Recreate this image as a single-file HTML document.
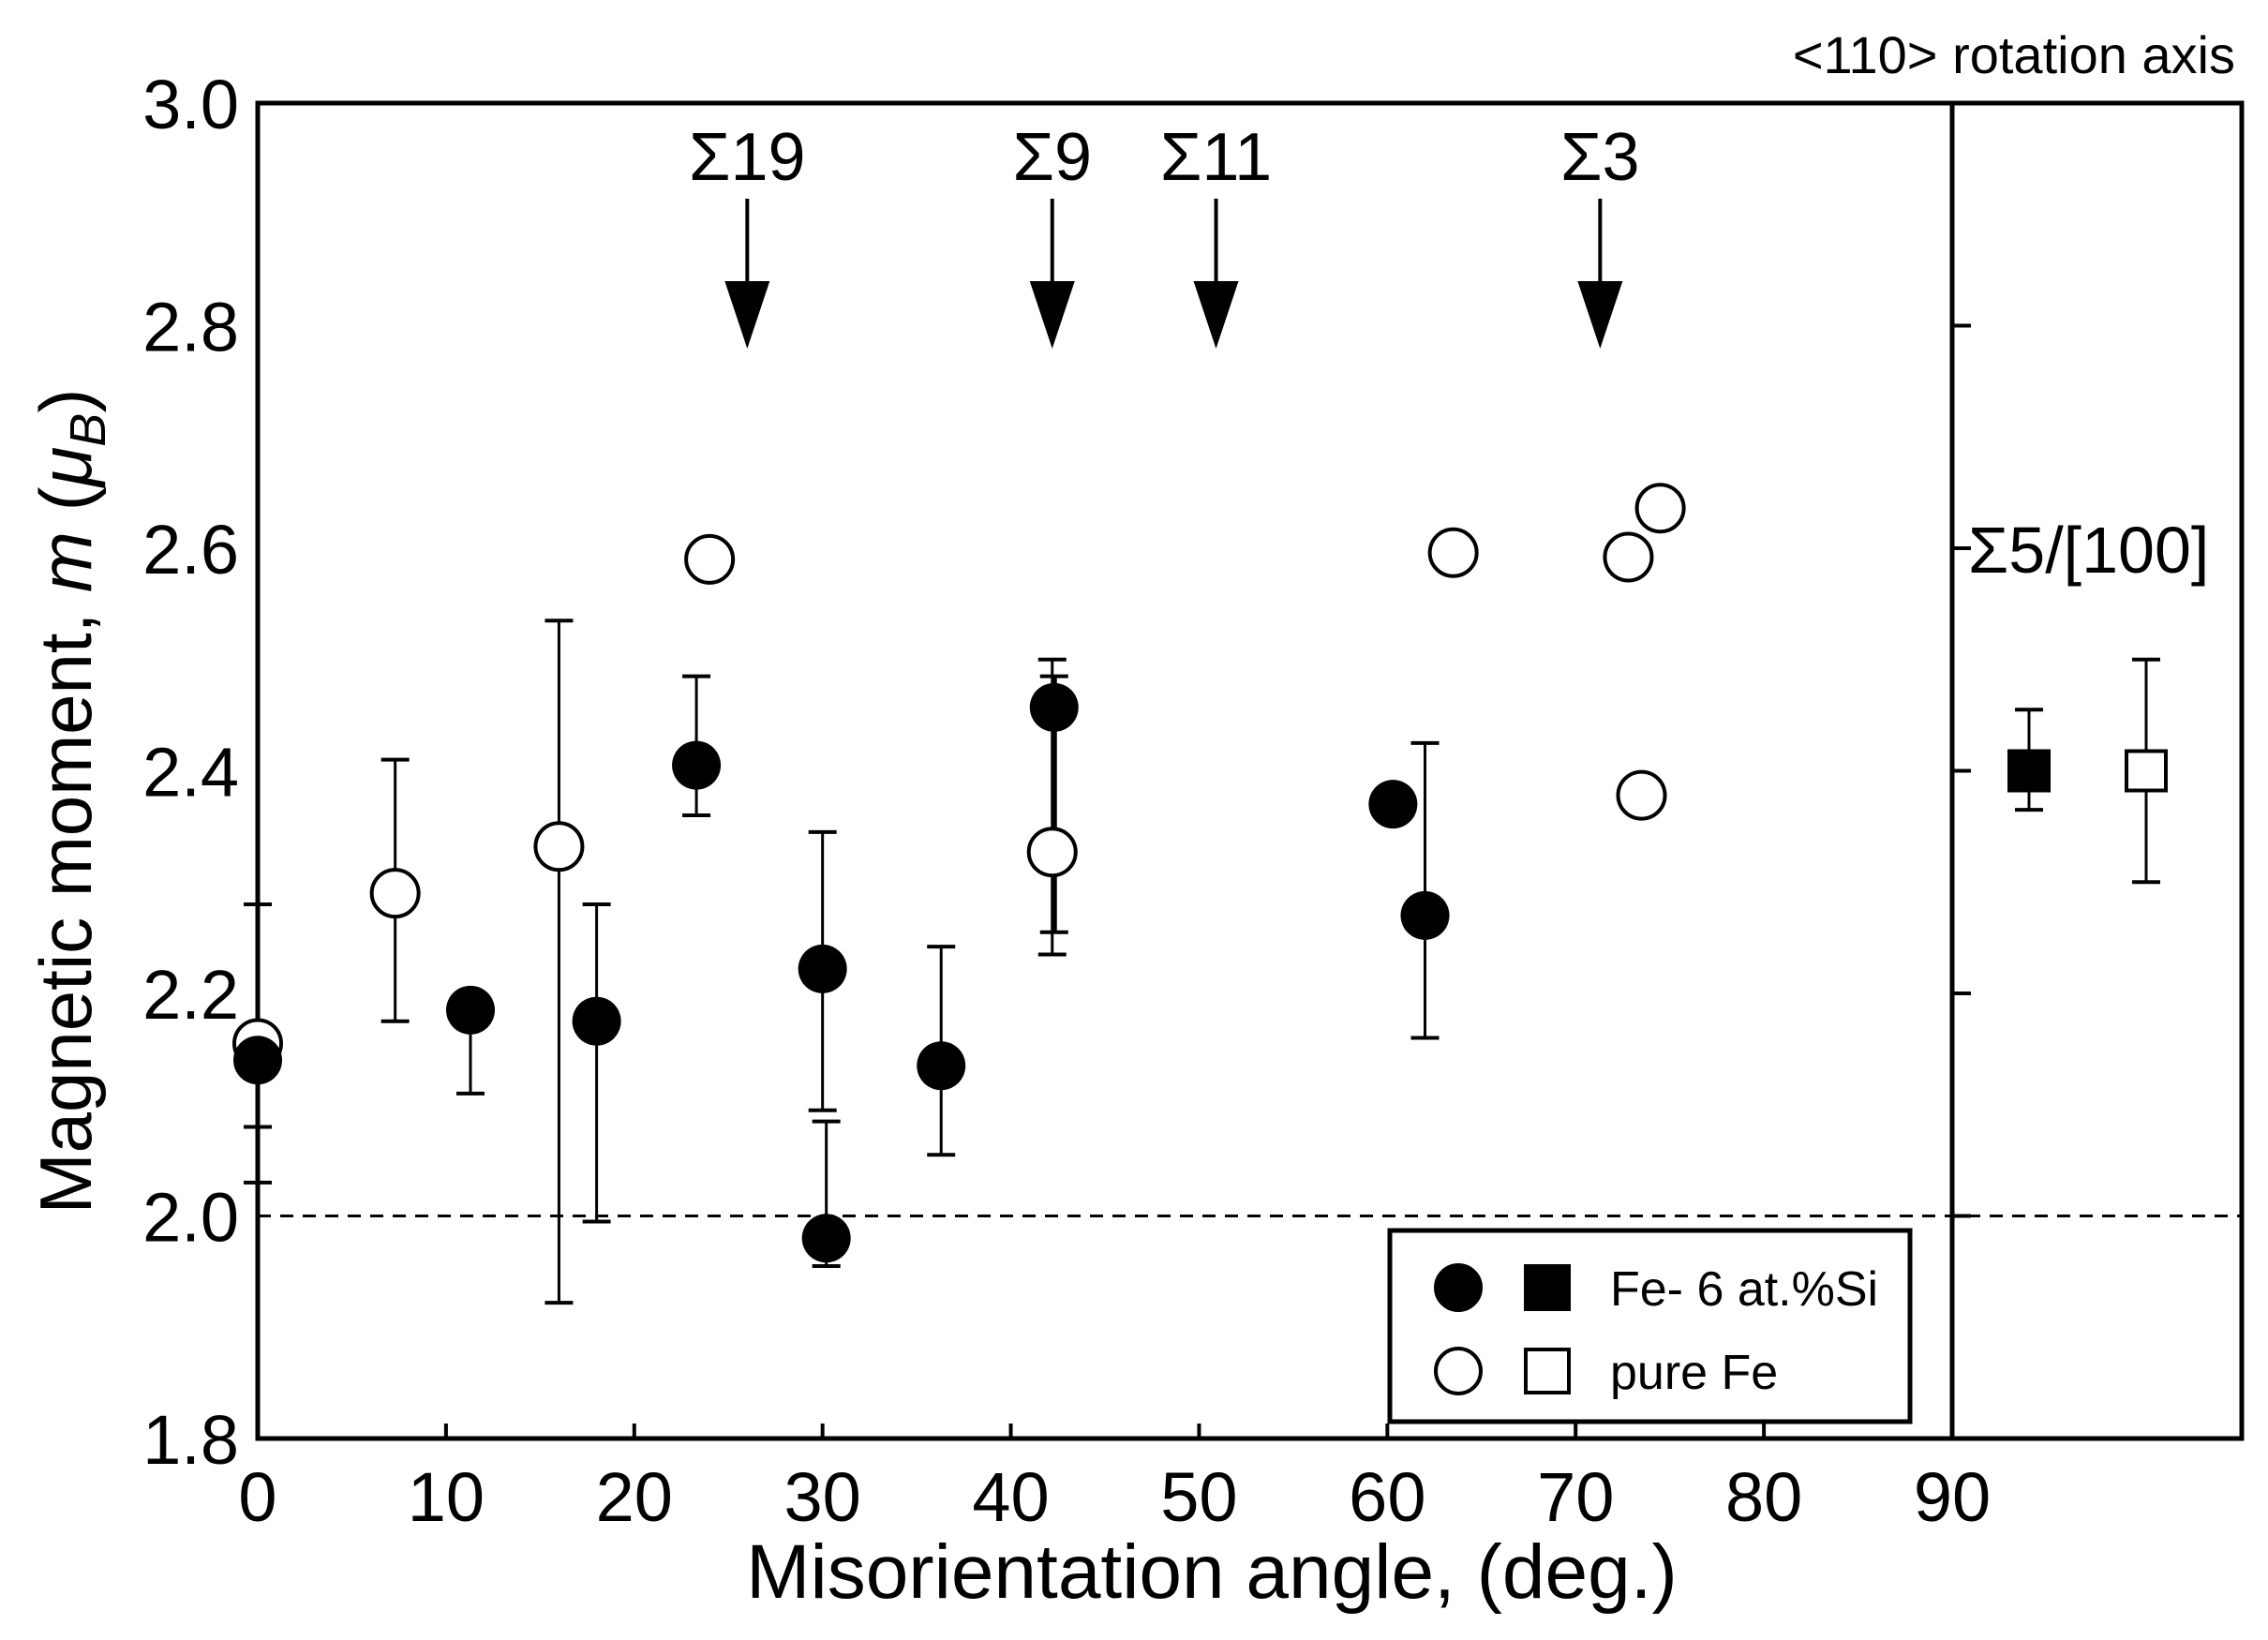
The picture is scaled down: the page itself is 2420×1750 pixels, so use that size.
<!DOCTYPE html>
<html><head><meta charset="utf-8"><style>
html,body{margin:0;padding:0;background:#fff;}
svg{display:block;font-family:"Liberation Sans",sans-serif;}
</style></head><body>
<svg id="chart" width="2420" height="1750" viewBox="0 0 2420 1750"></svg>
<script>
const xTicks=[0,10,20,30,40,50,60,70,80,90];
const yTicks=[1.8,2.0,2.2,2.4,2.6,2.8,3.0];
const feSiX=[0,11.3,18,23.3,30,30.2,36.3,42.3,60.3,62];
const feSiY=[2.14,2.185,2.175,2.405,2.222,1.98,2.135,2.457,2.37,2.27];
const feSiLo=[2.08,2.11,1.995,2.36,2.095,1.955,2.055,2.255,null,2.16];
const feSiHi=[null,null,2.28,2.485,2.345,2.085,2.242,2.485,null,2.425];
const pureX=[0,7.3,16,24,42.2,63.5,72.8,74.5,73.5];
const pureY=[2.155,2.29,2.332,2.59,2.327,2.596,2.592,2.636,2.378];
const pureLo=[2.03,2.175,1.922,null,2.235,null,null,null,null];
const pureHi=[2.28,2.41,2.535,null,2.50,null,null,null,null];
const sigmaLabels=["Σ19","Σ9","Σ11","Σ3"];
const sigmaX=[26,42.2,50.9,71.3];
const sq100Labels=["Fe-Si","pure"];
const sq100Y=[2.40,2.40];
const sq100Lo=[2.365,2.30];
const sq100Hi=[2.455,2.50];

const NS="http://www.w3.org/2000/svg";
const svg=document.getElementById('chart');
const L=275,R=2083,RF=2392,T=110,B=1535;
const xs=v=>L+(v-0)/(90-0)*(R-L);
const ys=v=>B-(v-1.8)/(3.0-1.8)*(B-T);
function el(tag,attrs,parent){const e=document.createElementNS(NS,tag);for(const k in attrs)e.setAttribute(k,attrs[k]);(parent||svg).appendChild(e);return e;}

let f=el('rect',{x:L,y:T,width:RF-L,height:B-T,fill:'none',stroke:'#000','stroke-width':5});


let dv=el('line',{x1:R,y1:T,x2:R,y2:B,stroke:'#000','stroke-width':5});


let dl=el('line',{x1:L,y1:ys(2.0),x2:RF,y2:ys(2.0),stroke:'#000','stroke-width':3,'stroke-dasharray':'14,10'});



xTicks.forEach(v=>{
  let t=el('line',{x1:xs(v),y1:B,x2:xs(v),y2:B-16,stroke:'#000','stroke-width':4});
  
  
  let tx=el('text',{x:xs(v),y:B+88,'font-size':74,'text-anchor':'middle'});
  tx.textContent=v;
  
  
});
yTicks.forEach(v=>{
  let tx=el('text',{x:L-20,y:ys(v)+27,'font-size':74,'text-anchor':'end'});
  tx.textContent=v.toFixed(1);
  
  
  if(v>1.8&&v<3.0){
    let t=el('line',{x1:R,y1:ys(v),x2:R+20,y2:ys(v),stroke:'#000','stroke-width':4});
    
    
  }
});

let xt=el('text',{x:1293,y:1705,'font-size':82,'text-anchor':'middle'});
xt.textContent='Misorientation angle, (deg.)';


let yt=el('text',{transform:'translate(97,855) rotate(-90)','font-size':78,'text-anchor':'middle'});
yt.innerHTML='Magnetic moment, <tspan font-style="italic">m</tspan> (<tspan font-style="italic">μ</tspan><tspan font-style="italic" font-size="54" dy="15">B</tspan><tspan dy="-15">)</tspan>';


let rt=el('text',{x:2385,y:78,'font-size':56,'text-anchor':'end'});
rt.textContent='<110> rotation axis';


let s5=el('text',{x:2100,y:ys(2.6)+26,'font-size':70});
s5.textContent='Σ5/[100]';



sigmaX.forEach((v,i)=>{
  const x=xs(v);
  let t=el('text',{x:x,y:192,'font-size':72,'text-anchor':'middle'});
  t.textContent=sigmaLabels[i];
  
  
  let ln=el('line',{x1:x,y1:212,x2:x,y2:310,stroke:'#000','stroke-width':4});
  
  
  let p=el('polygon',{points:`${x-24},300 ${x+24},300 ${x},372`,fill:'#000'});
  
  
});

function errbar(x,y,lo,hi,w){
  if(lo!=null){
    let a=el('line',{x1:x,y1:ys(y),x2:x,y2:ys(lo),stroke:'#000','stroke-width':w});
    
    
    let c=el('line',{x1:x-15,y1:ys(lo),x2:x+15,y2:ys(lo),stroke:'#000','stroke-width':4});
    
    
  }
  if(hi!=null){
    let a=el('line',{x1:x,y1:ys(y),x2:x,y2:ys(hi),stroke:'#000','stroke-width':w});
    
    
    let c=el('line',{x1:x-15,y1:ys(hi),x2:x+15,y2:ys(hi),stroke:'#000','stroke-width':4});
    
    
  }
}
pureX.forEach((v,i)=>errbar(xs(v),pureY[i],pureLo[i],pureHi[i],3));
feSiX.forEach((v,i)=>errbar(xs(v),feSiY[i],feSiLo[i],feSiHi[i],i===7?6:3));
pureX.forEach((v,i)=>{
  let c=el('circle',{cx:xs(v),cy:ys(pureY[i]),r:25,fill:'#fff',stroke:'#000','stroke-width':4});
  
  
});
feSiX.forEach((v,i)=>{
  let c=el('circle',{cx:xs(v),cy:ys(feSiY[i]),r:26,fill:'#000'});
  
  
});
const sqX=[2165,2290];
sq100Labels.forEach((n,i)=>{
  errbar(sqX[i],sq100Y[i],sq100Lo[i],sq100Hi[i],3);
  let r=el('rect',{x:sqX[i]-21,y:ys(sq100Y[i])-21,width:42,height:42,fill:i===0?'#000':'#fff',stroke:'#000','stroke-width':4});
  
  
});

const lg=el('g',{});


let lb=el('rect',{x:1483,y:1313,width:555,height:204,fill:'#fff',stroke:'#000','stroke-width':5},lg);


const lgE=[{y:1374,fill:'#000',t:'Fe- 6 at.%Si'},{y:1463,fill:'#fff',t:'pure Fe'}];
lgE.forEach(e=>{
  const g=el('g',{},lg);
  
  
  el('circle',{cx:1556,cy:e.y,r:24,fill:e.fill,stroke:'#000','stroke-width':4},g);
  el('rect',{x:1628,y:e.y-23,width:46,height:46,fill:e.fill,stroke:'#000','stroke-width':4},g);
  const t=el('text',{x:1718,y:e.y+19,'font-size':52},g);
  t.textContent=e.t;
});
</script>
</body></html>
